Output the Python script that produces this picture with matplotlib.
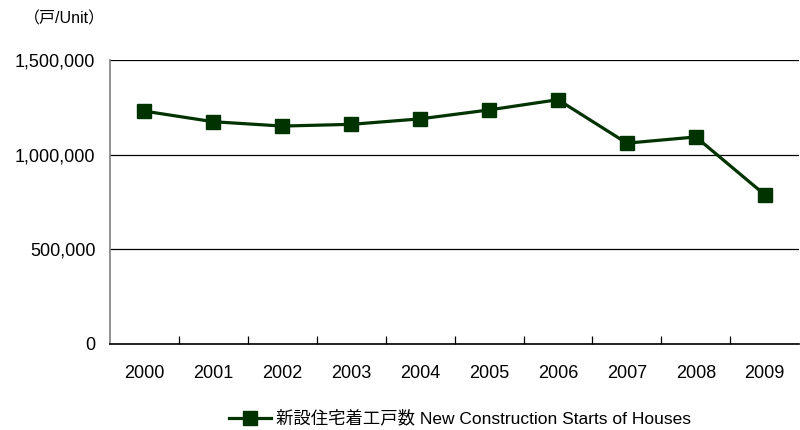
import matplotlib.pyplot as plt
import numpy as np

plt.rcParams['font.family'] = ['Liberation Sans', 'Noto Sans CJK JP', 'DejaVu Sans']

# housing starts, units
years = ["2000", "2001", "2002", "2003", "2004", "2005", "2006", "2007", "2008", "2009"]
starts = [1229843, 1173858, 1151016, 1160083, 1189049, 1236175, 1290391, 1060741, 1093519, 788410]
series_label = "新設住宅着工戸数 New Construction Starts of Houses"

fig = plt.figure(figsize=(8, 4.3), dpi=100)
ax = fig.add_axes([0.1375, 0.2, 0.8615, 0.6605])

x = np.arange(len(years))
ax.plot(x, starts, "-s", color="#003300", linewidth=2.3, markersize=10,
        label=series_label, zorder=3, clip_on=False)

ax.set_xlim(-0.5, len(years) - 0.5)
ax.set_ylim(0, 1500000)
ax.set_yticks([0, 500000, 1000000, 1500000])
ax.set_yticklabels(["{:,}".format(v) for v in [0, 500000, 1000000, 1500000]], fontsize=13)
ax.yaxis.grid(color="black", linewidth=0.9)
ax.set_axisbelow(True)

ax.set_xticks(x)
ax.set_xticklabels(years, fontsize=13)
ax.set_xticks(np.arange(0.5, len(years) - 0.5, 1), minor=True)
ax.tick_params(axis="x", which="major", length=0, pad=15)
ax.tick_params(axis="x", which="minor", direction="in", length=6, width=0.9)
ax.tick_params(axis="y", length=0, pad=10.5)

ax.spines["top"].set_visible(False)
ax.spines["right"].set_visible(False)
ax.spines["left"].set_color("#808080")
ax.spines["left"].set_linewidth(1.2)
ax.spines["bottom"].set_linewidth(1.2)

fig.text(0.03, 0.955, "（戸/Unit）", fontsize=11.5, ha="left", va="center")

fig.legend(loc="center", bbox_to_anchor=(0.575, 0.027), frameon=False, fontsize=12.5,
           handlelength=2.4, handletextpad=0.3)

plt.savefig("out.png", dpi=100)
